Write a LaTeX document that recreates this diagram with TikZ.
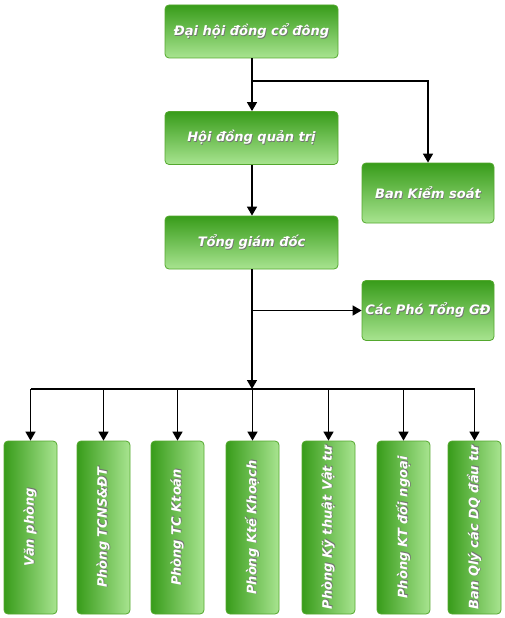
\documentclass[tikz,border=0pt]{standalone}
\usepackage{fontspec}
\setmainfont{DejaVu Sans}
\usetikzlibrary{
    positioning,
    arrows.meta
}
\definecolor{darkgreen}{RGB}{56,156,26}
\definecolor{lightgreen}{RGB}{168,228,144}
\definecolor{bordergreen}{RGB}{84,168,46}
\newcommand\txtshadow[1]{\makebox[0pt][l]{\hspace{0.7pt}\raisebox{-0.7pt}{\textcolor{black!55}{#1}}}#1}
\tikzset{
    >={Triangle[width=10pt,length=9pt]},
    unit/.style={
        draw=bordergreen,
        line width=0.8pt,
        rounded corners=4pt,
        top color=darkgreen,
        bottom color=lightgreen,
        text=white,
        font=\fontsize{13}{15}\selectfont\bfseries\itshape,
        minimum width=173pt,
        minimum height=53pt,
        inner sep=1pt
    },
    side/.style={
        unit,
        minimum width=132pt,
        minimum height=60pt
    },
    dept/.style={
        unit,
        left color=darkgreen,
        right color=lightgreen,
        rotate=90
    },
    link/.style={line width=1.5pt}
}

\begin{document}
\begin{tikzpicture}[
    x=1pt,
    y=-1pt
]
    \useasboundingbox (0,0) rectangle (504,618);

    % Cap tren
    \node[unit] (dhcd) at (251.5,31.5)  {\txtshadow{Đại hội đồng cổ đông}};
    \node[unit] (hdqt) at (251.5,138)   {\txtshadow{Hội đồng quản trị}};
    \node[side] (bks)  at (428,193)     {\txtshadow{Ban Kiểm soát}};
    \node[unit] (tgd)  at (251.5,242.5) {\txtshadow{Tổng giám đốc}};
    \node[side] (pho)  at (428,310.5)   {\txtshadow{Các Phó Tổng GĐ}};

    % Phong ban
    \foreach \i/\x/\txt in {
        1/30.5/Văn phòng,
        2/103.5/Phòng TCNS\&ĐT,
        3/177.5/Phòng TC Ktoán,
        4/252.5/Phòng Ktế Khoạch,
        5/328.5/Phòng Kỹ thuật Vật tư,
        6/403.5/Phòng KT đối ngoại,
        7/474.5/Ban Qlý các DQ đầu tư
    }{
        \node[dept] (d\i) at (\x,527.5) {\txtshadow{\txt}};
    }

    \coordinate (split) at (252,81);
    \coordinate (bus)   at (252,389);

    % Duong noi
    \draw[link,->] (split |- dhcd.south) -- (split |- hdqt.north);
    \draw[link,->] (split) -| (bks);
    \draw[link,->] (split |- hdqt.south) -- (split |- tgd.north);
    \draw[link,->] (split |- tgd.south) -- (bus);
    \draw[link,->] (split |- pho.west) -- (pho);
    \draw[link] (bus -| d1) -- (bus -| d7);
    \foreach \i in {1,...,7}{
        \draw[link,->] (bus -| d\i) -- (d\i);
    }

\end{tikzpicture}
\end{document}
